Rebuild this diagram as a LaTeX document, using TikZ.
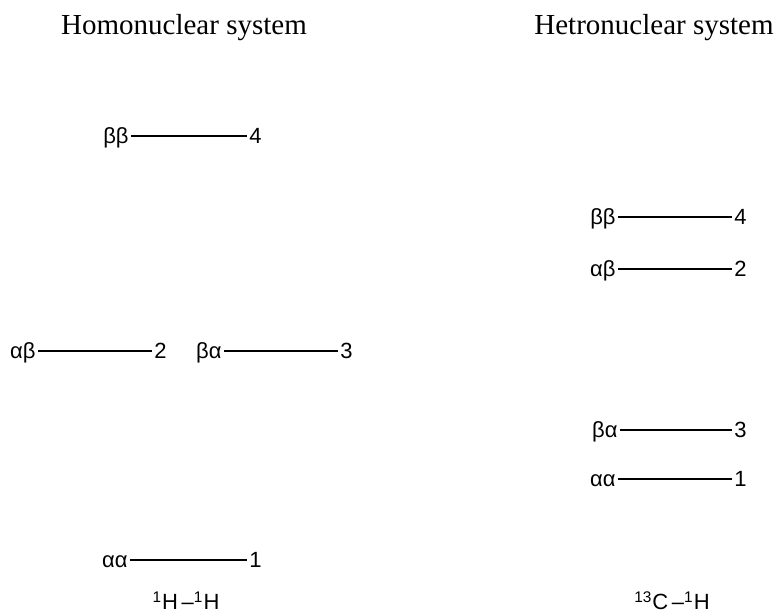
\documentclass[tikz,border=0pt]{standalone}
\usepackage{fontspec}
\setmainfont{Liberation Serif}
\newfontfamily\labfont{Liberation Sans}
\usetikzlibrary{positioning}

\begin{document}
\begin{tikzpicture}[
      x=0.5pt, y=-0.5pt,
      title/.style={font=\fontsize{14.5}{17}\selectfont, inner sep=0pt, anchor=base},
      state/.style={font=\labfont\fontsize{11}{13}\selectfont, text height=0.72em, text depth=0pt, inner sep=1pt, anchor=east},
      num/.style={state, anchor=west},
      pair/.style={font=\labfont\fontsize{11}{13}\selectfont, inner sep=0pt, anchor=base},
      level/.style={line width=0.9pt}]
    \useasboundingbox (0,0) rectangle (782,613);
    % Titles
    \node[title] (homo)   at (184,35) {Homonuclear system};
    \node[title] (hetero) at (654,35) {Hetronuclear system};
    % Homonuclear levels
    \node[state] (hobb) at (131,136) {ββ};
    \node[num]   (ho4)  at (247,136) {4};
    \node[state] (hoab) at (38,351)  {αβ};
    \node[num]   (ho2)  at (152,351) {2};
    \node[state] (hoba) at (224,351) {βα};
    \node[num]   (ho3)  at (338,351) {3};
    \node[state] (hoaa) at (130,560) {αα};
    \node[num]   (ho1)  at (247,560) {1};
    % Heteronuclear levels
    \node[state] (hebb) at (618,217) {ββ};
    \node[num]   (he4)  at (732,217) {4};
    \node[state] (heab) at (618,269) {αβ};
    \node[num]   (he2)  at (732,269) {2};
    \node[state] (heba) at (620,430) {βα};
    \node[num]   (he3)  at (732,430) {3};
    \node[state] (heaa) at (618,479) {αα};
    \node[num]   (he1)  at (732,479) {1};
    % Nuclei
    \node[pair] (hh) at (186,610) {\textsuperscript{1}H\,–\textsuperscript{1}H};
    \node[pair] (ch) at (672,610) {\textsuperscript{13}C\,–\textsuperscript{1}H};
    % Lines
    \draw[level] (hobb) -- (ho4);
    \draw[level] (hoab) -- (ho2);
    \draw[level] (hoba) -- (ho3);
    \draw[level] (hoaa) -- (ho1);
    \draw[level] (hebb) -- (he4);
    \draw[level] (heab) -- (he2);
    \draw[level] (heba) -- (he3);
    \draw[level] (heaa) -- (he1);
  \end{tikzpicture}
\end{document}
